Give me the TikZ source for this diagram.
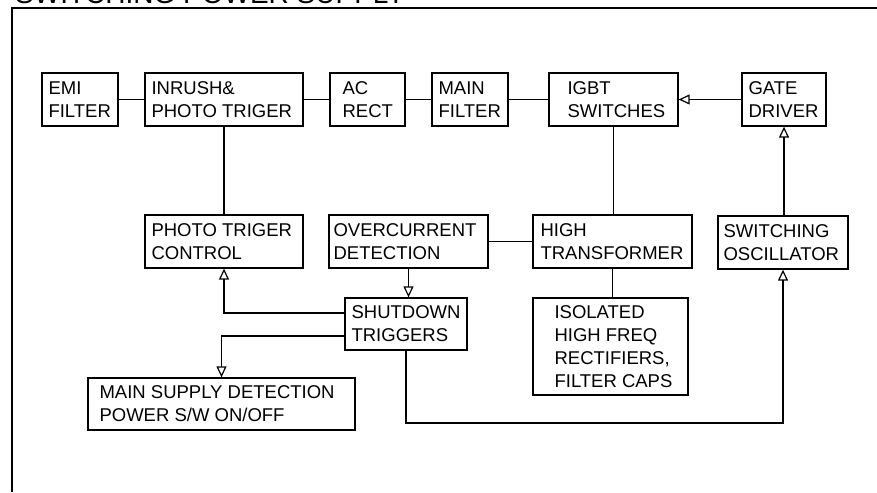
\documentclass[tikz,border=0pt]{standalone}
\usepackage{fontspec}
\setmainfont{Liberation Sans}
\usetikzlibrary{arrows.meta}
\begin{document}
\begin{tikzpicture}[x=1pt,y=-1pt,
  box/.style={draw=black, line width=1.3pt, minimum width=#1, inner sep=0pt},
  box/.default=76pt,
  txt/.style={anchor=west, align=left, inner sep=0pt, font=\fontsize{18.5}{23}\selectfont},
  wire/.style={line width=1.3pt},
  tri/.style={line width=1.3pt, -{Triangle[open, length=11pt, width=10pt, line width=1.2pt]}}]
\useasboundingbox (0,0) rectangle (877,492);
% frame and title
\node[anchor=base west, inner sep=0pt, font=\fontsize{28}{32}\selectfont] (title) at (15,4) {SWITCHING POWER SUPPLY};
\coordinate (ftl) at (12,8);
\coordinate (ftr) at (877,8);
\coordinate (fbl) at (12,492);
\draw[line width=2pt] (ftr) -- (ftl) -- (fbl);
% boxes
\node[box=76pt, minimum height=53pt] (emi) at (80,99.5) {};
\node[txt] (emiT) at ([xshift=7pt]emi.west) {EMI\\FILTER};
\node[box=158pt, minimum height=53pt] (inrush) at (224,99.5) {};
\node[txt] (inrushT) at ([xshift=7pt]inrush.west) {INRUSH\&\\PHOTO TRIGER};
\node[box=75pt, minimum height=53pt] (ac) at (367.5,99.5) {};
\node[txt] (acT) at ([xshift=13pt]ac.west) {AC\\RECT};
\node[box=76pt, minimum height=53pt] (mainf) at (470,99.5) {};
\node[txt] (mainfT) at ([xshift=7pt]mainf.west) {MAIN\\FILTER};
\node[box=129pt, minimum height=53pt] (igbt) at (613.5,99.5) {};
\node[txt] (igbtT) at ([xshift=19pt]igbt.west) {IGBT\\SWITCHES};
\node[box=84pt, minimum height=53pt] (gate) at (784,99.5) {};
\node[txt] (gateT) at ([xshift=7pt]gate.west) {GATE\\DRIVER};
\node[box=158pt, minimum height=53pt] (photo) at (224,241.5) {};
\node[txt] (photoT) at ([xshift=7pt]photo.west) {PHOTO TRIGER\\CONTROL};
\node[box=159pt, minimum height=53pt] (over) at (408.5,241.5) {};
\node[txt] (overT) at ([xshift=5pt]over.west) {OVERCURRENT\\DETECTION};
\node[box=159pt, minimum height=53pt] (hight) at (612.5,241.5) {};
\node[txt] (hightT) at ([xshift=8pt]hight.west) {HIGH\\TRANSFORMER};
\node[box=130pt, minimum height=53pt] (osc) at (783,242.5) {};
\node[txt] (oscT) at ([xshift=6pt]osc.west) {SWITCHING\\OSCILLATOR};
\node[box=122pt, minimum height=52pt] (shut) at (406,324) {};
\node[txt] (shutT) at ([xshift=7pt]shut.west) {SHUTDOWN\\TRIGGERS};
\node[box=155pt, minimum height=97pt] (iso) at (610.5,346.5) {};
\node[txt] (isoT) at ([xshift=22pt]iso.west) {ISOLATED\\HIGH FREQ\\RECTIFIERS,\\FILTER CAPS};
\node[box=267pt, minimum height=52pt] (msup) at (221.5,404) {};
\node[txt] (msupT) at ([xshift=12pt]msup.west) {MAIN SUPPLY DETECTION\\POWER S/W ON/OFF};
% connectors
\draw[wire] (emi) -- (inrush);
\draw[wire] (inrush) -- (ac);
\draw[wire] (ac) -- (mainf);
\draw[wire] (mainf) -- (igbt);
\draw[tri] (gate) -- (igbt);
\draw[wire] (inrush.south) -- (photo.north);
\draw[wire] (igbt.south) -- (igbt.south |- hight.north);
\draw[wire] (over) -- (hight);
\draw[wire] (hight.south) -- (hight.south |- iso.north);
\draw[tri] (gate.south |- osc.north) -- (gate.south);
\draw[tri] (over.south) -- (over.south |- shut.north);
\coordinate (s1) at ([yshift=11pt]shut.west);
\coordinate (s2) at ([yshift=-12pt]shut.west);
\draw[tri] (s1) -| (photo.south);
\draw[tri] (s2) -| (msup.north);
\coordinate (sb) at (shut.south |- 0,423);
\draw[tri] (shut.south) -- (sb) -| (osc.south);
\end{tikzpicture}
\end{document}
